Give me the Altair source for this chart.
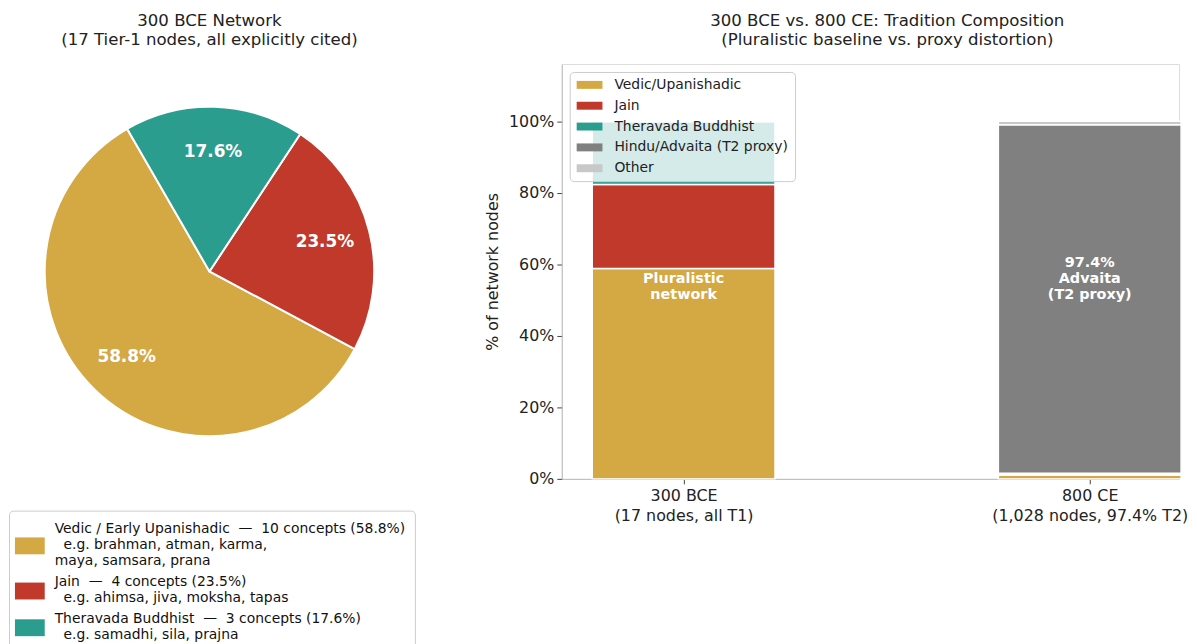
import math
import altair as alt
import pandas as pd

FONT = "DejaVu Sans"

# ---------------- Left: 300 BCE pie ----------------
pie_names = ["Vedic / Early Upanishadic", "Jain", "Theravada Buddhist"]
pie_counts = [10, 4, 3]
pie_pcts = [58.8, 23.5, 17.6]
pie_examples = [
    "e.g. brahman, atman, karma,|maya, samsara, prana",
    "e.g. ahimsa, jiva, moksha, tapas",
    "e.g. samadhi, sila, prajna",
]
pie_colors = ["#D4A843", "#C0392B", "#2A9D8F"]
pie_draw_order = [2, 1, 0]
# legend patch shapes (vertically centred on each multi-line label)
pie_patch_shapes = [
    "M-1.5,0.8H1.5V2.5H-1.5Z",
    "M-1.5,0.05H1.5V1.75H-1.5Z",
    "M-1.5,0.05H1.5V1.75H-1.5Z",
]

NB = "\u00a0"
ZW = "\u200b"
legend_labels = [
    f"{n}{NB}{NB}—{NB}{NB}{c} concepts ({p}%)|{ZW}{NB}{NB}{e}"
    for n, c, p, e in zip(pie_names, pie_counts, pie_pcts, pie_examples)
]

pie_df = pd.DataFrame({
    "label": legend_labels,
    "pct": pie_pcts,
    "order": pie_draw_order,
    "text": [f"{p}%" for p in pie_pcts],
})

start = math.radians(330)
theta_scale = alt.Scale(range=[start, start + 2 * math.pi])

left_legend = alt.Legend(
    title=None,
    orient="none",
    legendX=0,
    legendY=450,
    direction="vertical",
    labelExpr="split(datum.label, '|')",
    labelFontSize=14,
    labelColor="#111",
    labelFont=FONT,
    labelLimit=600,
    labelOffset=15,
    symbolSize=400,
    symbolOffset=2,
    symbolStrokeWidth=0,
    symbolOpacity=1,
    rowPadding=4,
    padding=9,
    fillColor="white",
    strokeColor="#cccccc",
    cornerRadius=4,
)

color_left = alt.Color(
    "label:N",
    scale=alt.Scale(domain=legend_labels, range=pie_colors),
    legend=left_legend,
)
shape_left = alt.Shape(
    "label:N",
    scale=alt.Scale(domain=legend_labels, range=pie_patch_shapes),
    legend=left_legend,
)

pie_base = alt.Chart(pie_df).encode(
    theta=alt.Theta("pct:Q", stack=True, scale=theta_scale),
    order=alt.Order("order:Q", sort="ascending"),
)

arcs = pie_base.mark_arc(outerRadius=166, stroke="white", strokeWidth=2).encode(
    color=color_left
)

legend_carrier = alt.Chart(pie_df).mark_point(filled=True, opacity=0).encode(
    color=color_left, shape=shape_left
)

pie_text = pie_base.mark_text(
    radius=120, fontSize=17, fontWeight="bold", color="white", font=FONT
).encode(text="text:N")

left = alt.layer(arcs, pie_text, legend_carrier).properties(
    width=404,
    height=418,
    title=alt.TitleParams(
        ["300 BCE Network", "(17 Tier-1 nodes, all explicitly cited)"],
        fontSize=16.7, fontWeight="normal", font=FONT, color="#222",
        anchor="middle", frame="group", offset=15, lineHeight=20,
    ),
)

# ---------------- Right: stacked bars ----------------
period_labels = ["300 BCE|(17 nodes, all T1)", "800 CE|(1,028 nodes, 97.4% T2)"]
traditions = ["Vedic/Upanishadic", "Jain", "Theravada Buddhist",
              "Hindu/Advaita (T2 proxy)", "Other"]
trad_colors = ["#D4A843", "#C0392B", "#2A9D8F", "#808080", "#C8C8C8"]
share_300bce = [58.8, 23.5, 17.6, 0.0, 0.0]
share_800ce = [1.0, 0.3, 0.3, 97.4, 1.0]

rows = []
for xi, shares in enumerate([share_300bce, share_800ce]):
    for ti, (t, v) in enumerate(zip(traditions, shares)):
        rows.append({"xpos": xi, "tradition": t, "share": v, "tord": ti})
bar_df = pd.DataFrame(rows)

ann_x = [0, 1]
ann_y = [55.8, 60.3]
ann_text = ["Pluralistic\nnetwork", "97.4%\nAdvaita\n(T2 proxy)"]
ann_df = pd.DataFrame({"xpos": ann_x, "y": ann_y, "text": ann_text})

x_scale = alt.Scale(domain=[-0.3, 1.22], nice=False, zero=False)
y_scale = alt.Scale(domain=[0, 116], nice=False)

label_expr = (
    f"split(datum.value == 0 ? '{period_labels[0]}' : '{period_labels[1]}', '|')"
)

bars = (
    alt.Chart(bar_df)
    .transform_stack(stack="share", groupby=["xpos"], as_=["y0", "y1"],
                     sort=[alt.SortField("tord", order="ascending")])
    .transform_calculate(x0="datum.xpos - 0.225", x1="datum.xpos + 0.225")
    .mark_bar(stroke="white", strokeWidth=1.5)
    .encode(
        x=alt.X("x0:Q", scale=x_scale,
                axis=alt.Axis(values=[0, 1], labelExpr=label_expr, title=None,
                              grid=False, labelFontSize=16, labelLineHeight=20,
                              labelColor="#222", labelPadding=4, labelLimit=400,
                              labelOverlap=False,
                              tickColor="#444", tickSize=5,
                              domainColor="#bbbbbb")),
        x2="x1:Q",
        y=alt.Y("y0:Q", scale=y_scale,
                axis=alt.Axis(values=[0, 20, 40, 60, 80, 100],
                              labelExpr="datum.value + '%'",
                              title="% of network nodes", titleFontSize=16,
                              titleFontWeight="normal", titleColor="#222",
                              titlePadding=8,
                              grid=False, labelFontSize=16, labelColor="#222",
                              labelPadding=3,
                              tickColor="#444", tickSize=5,
                              domainColor="#bbbbbb")),
        y2="y1:Q",
        color=alt.Color(
            "tradition:N",
            scale=alt.Scale(domain=traditions, range=trad_colors),
            legend=alt.Legend(
                title=None,
                orient="none",
                legendX=8,
                legendY=8,
                direction="vertical",
                labelFontSize=14,
                labelColor="#222",
                labelFont=FONT,
                labelLimit=400,
                labelOffset=18,
                symbolType="M-1.857,-0.571H1.857V0.571H-1.857Z",
                symbolSize=196,
                symbolOffset=7,
                symbolStrokeWidth=0,
                symbolOpacity=1,
                rowPadding=7,
                padding=6,
                fillColor="rgba(255,255,255,0.8)",
                strokeColor="#cccccc",
                cornerRadius=4,
            ),
        ),
    )
)

ann = alt.Chart(ann_df).mark_text(
    color="white", fontWeight="bold", fontSize=14.5, font=FONT,
    lineBreak="\n", lineHeight=16, baseline="middle", align="center",
).encode(
    x=alt.X("xpos:Q", scale=x_scale),
    y=alt.Y("y:Q", scale=y_scale),
    text="text:N",
)

right = alt.layer(bars, ann).properties(
    width=622,
    height=418,
    title=alt.TitleParams(
        ["300 BCE vs. 800 CE: Tradition Composition",
         "(Pluralistic baseline vs. proxy distortion)"],
        fontSize=16.7, fontWeight="normal", font=FONT, color="#222",
        anchor="middle", frame="group", offset=15, lineHeight=20, dx=17,
    ),
)

chart = (
    alt.hconcat(left, right, spacing=68)
    .resolve_scale(color="independent", shape="independent",
                   x="independent", y="independent")
    .resolve_legend(color="independent", shape="independent")
    .configure_view(stroke=None)
    .configure(font=FONT, padding={"top": 1, "left": 0, "right": 0, "bottom": 0})
)

chart.save("out.html", embed_options={"renderer": "svg", "actions": False})
